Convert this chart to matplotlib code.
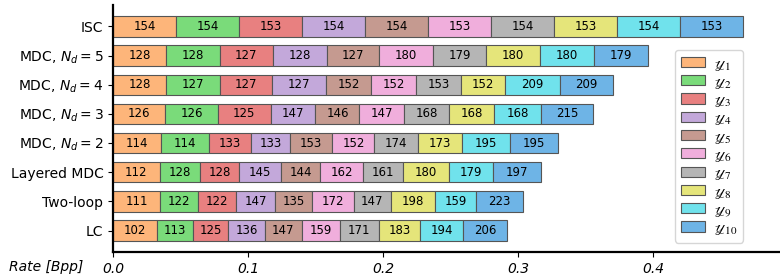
import numpy as np
import matplotlib
matplotlib.use("Agg")
import matplotlib.pyplot as plt

methods = ['ISC', 'MDC, $N_d=5$', 'MDC, $N_d=4$', 'MDC, $N_d=3$',
           'MDC, $N_d=2$', 'Layered MDC', 'Two-loop', 'LC']

# number label shown in each segment
counts = {
    'ISC':          [154, 154, 153, 154, 154, 153, 154, 153, 154, 153],
    'MDC, $N_d=5$': [128, 128, 127, 128, 127, 180, 179, 180, 180, 179],
    'MDC, $N_d=4$': [128, 127, 127, 127, 152, 152, 153, 152, 209, 209],
    'MDC, $N_d=3$': [126, 126, 125, 147, 146, 147, 168, 168, 168, 215],
    'MDC, $N_d=2$': [114, 114, 133, 133, 153, 152, 174, 173, 195, 195],
    'Layered MDC':  [112, 128, 128, 145, 144, 162, 161, 180, 179, 197],
    'Two-loop':     [111, 122, 122, 147, 135, 172, 147, 198, 159, 223],
    'LC':           [102, 113, 125, 136, 147, 159, 171, 183, 194, 206],
}

# rate of each segment [Bpp]
rates = {
    'ISC':          [0.0467, 0.0467, 0.0466, 0.0467, 0.0467, 0.0466, 0.0467, 0.0466, 0.0467, 0.0466],
    'MDC, $N_d=5$': [0.0390, 0.0400, 0.0393, 0.0400, 0.0390, 0.0397, 0.0393, 0.0396, 0.0404, 0.0400],
    'MDC, $N_d=4$': [0.0390, 0.0400, 0.0390, 0.0397, 0.0336, 0.0333, 0.0330, 0.0329, 0.0404, 0.0393],
    'MDC, $N_d=3$': [0.0385, 0.0393, 0.0388, 0.0333, 0.0326, 0.0328, 0.0335, 0.0334, 0.0346, 0.0387],
    'MDC, $N_d=2$': [0.0353, 0.0361, 0.0304, 0.0293, 0.0314, 0.0311, 0.0321, 0.0328, 0.0356, 0.0353],
    'Layered MDC':  [0.0344, 0.0299, 0.0291, 0.0309, 0.0291, 0.0319, 0.0296, 0.0337, 0.0330, 0.0353],
    'Two-loop':     [0.0348, 0.0284, 0.0281, 0.0284, 0.0279, 0.0306, 0.0276, 0.0328, 0.0300, 0.0353],
    'LC':           [0.0326, 0.0264, 0.0261, 0.0274, 0.0272, 0.0281, 0.0291, 0.0305, 0.0317, 0.0329],
}

series = [r'$\mathscr{y}_{%d}$' % i for i in range(1, 11)]
colors = ['#fdb57a', '#7adb7a', '#e88080', '#c3a8da', '#c59a90',
          '#f0aedc', '#b5b5b5', '#e5e57a', '#70e2ec', '#6eb4e6']

fig = plt.figure(figsize=(7.8, 2.8), dpi=100)
ax = fig.add_axes([0.145, 0.1, 0.855, 0.882])

ypos = np.arange(len(methods))[::-1]
left = np.zeros(len(methods))
for j in range(10):
    w = np.array([rates[m][j] for m in methods])
    bars = ax.barh(ypos, w, left=left, height=0.7, color=colors[j],
                   edgecolor='#555555', linewidth=0.8, label=series[j])
    ax.bar_label(bars, labels=[str(counts[m][j]) for m in methods],
                 label_type='center', fontsize=8.5)
    left += w

ax.set_yticks(ypos)
ax.set_yticklabels(methods, fontsize=10)
ax.set_xlim(0, 0.494)
ax.set_xticks([0.0, 0.1, 0.2, 0.3, 0.4])
for t in ax.get_xticklabels():
    t.set_fontstyle('italic')
    t.set_fontsize(10)
ax.set_xlabel('Rate [Bpp]', fontsize=10, style='italic')
ax.xaxis.set_label_coords(-0.1, -0.033)

ax.spines['top'].set_visible(False)
ax.spines['right'].set_visible(False)
ax.spines['left'].set_linewidth(1.6)
ax.spines['bottom'].set_linewidth(1.6)

ax.legend(loc='upper right', bbox_to_anchor=(0.945, 0.818), borderaxespad=0,
          prop=dict(size=11.5, math_fontfamily='stix'), handlelength=1.5,
          handleheight=0.6, labelspacing=0.08, borderpad=0.35,
          handletextpad=0.6)

plt.savefig('out.png', dpi=100)
plt.close()
